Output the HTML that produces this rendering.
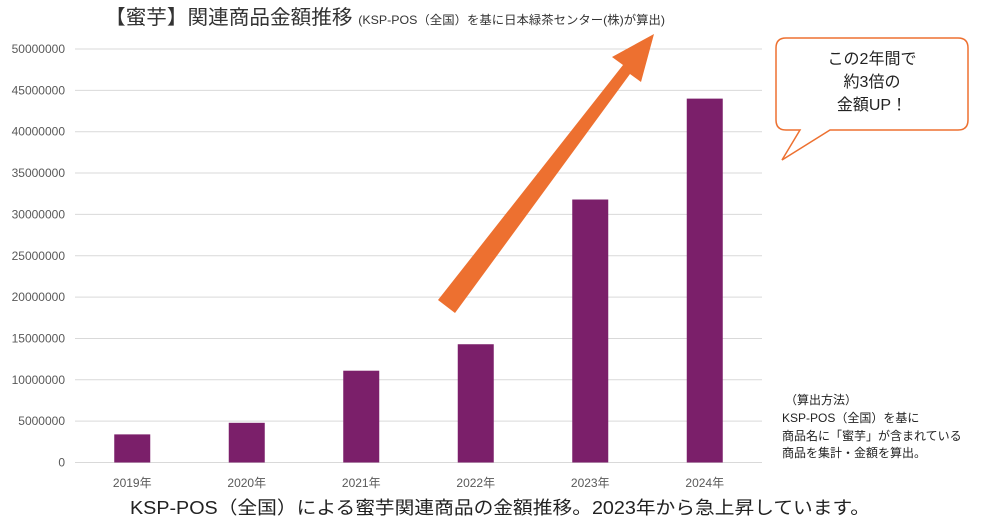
<!DOCTYPE html>
<html><head><meta charset="utf-8"><style>
body{margin:0;background:#fff;font-family:"Liberation Sans","Noto Sans CJK JP",sans-serif;}
svg text{font-family:"Liberation Sans","Noto Sans CJK JP",sans-serif;}
</style></head><body>
<svg width="1000" height="522" viewBox="0 0 1000 522">
<text x="105" y="24" font-size="20" fill="#333" textLength="560" lengthAdjust="spacingAndGlyphs">【蜜芋】関連商品金額推移 <tspan font-size="12">(KSP-POS（全国）を基に日本緑茶センター(株)が算出)</tspan></text>
<g id="grid"></g><g id="bars"></g><g id="xl"></g>
<polygon points="438,300 455,313 630,74 641,82 654,34 612,57 623,65" fill="#ED7030"/>
<path d="M786,38 H958 Q968,38 968,48 V120 Q968,130 958,130 H830 L782,160 L800,130 H786 Q776,130 776,120 V48 Q776,38 786,38 Z" fill="#fff" stroke="#ED7030" stroke-width="1.5"/>
<text font-size="16" fill="#222" text-anchor="middle"><tspan x="872" y="64">この2年間で</tspan><tspan x="872" y="87">約3倍の</tspan><tspan x="872" y="110">金額UP！</tspan></text>
<text font-size="12" fill="#222"><tspan x="785" y="404">（算出方法）</tspan><tspan x="782" y="422">KSP-POS（全国）を基に</tspan><tspan x="782" y="440">商品名に「蜜芋」が含まれている</tspan><tspan x="782" y="457">商品を集計・金額を算出。</tspan></text>
<text x="130" y="514" font-size="18" fill="#222" textLength="740" lengthAdjust="spacingAndGlyphs">KSP-POS（全国）による蜜芋関連商品の金額推移。2023年から急上昇しています。</text>
</svg>
<script>
const categories=["2019年","2020年","2021年","2022年","2023年","2024年"];
const values=[3400000,4800000,11100000,14300000,31800000,44000000];
const yTicks=[0,5000000,10000000,15000000,20000000,25000000,30000000,35000000,40000000,45000000,50000000];
const NS="http://www.w3.org/2000/svg";
const x0=75,x1=762,y0=462.5,yTop=49,yMax=50000000;
const y=v=>y0-(v/yMax)*(y0-yTop);
const band=(x1-x0)/categories.length;
const xc=i=>x0+band*(i+0.5);
function mk(t,a,p){const e=document.createElementNS(NS,t);for(const k in a)e.setAttribute(k,a[k]);p.appendChild(e);return e;}
const g=document.getElementById('grid');
yTicks.forEach(v=>{
 const l=mk('line',{x1:x0,x2:x1,y1:y(v),y2:y(v),stroke:'#d9d9d9','stroke-width':1},g);
 
 
 const t=mk('text',{x:65,y:y(v)+4,'font-size':12,fill:'#595959','text-anchor':'end'},g);
 t.textContent=v;
 
 
});
const b=document.getElementById('bars'),xl=document.getElementById('xl');
values.forEach((v,i)=>{
 const r=mk('rect',{x:xc(i)-18,y:y(v),width:36,height:y0-y(v),fill:'#7B1F6A'},b);
 
 
 const t=mk('text',{x:xc(i),y:487,'font-size':12,fill:'#595959','text-anchor':'middle'},xl);
 t.textContent=categories[i];
 
 
});
</script>
</body></html>
